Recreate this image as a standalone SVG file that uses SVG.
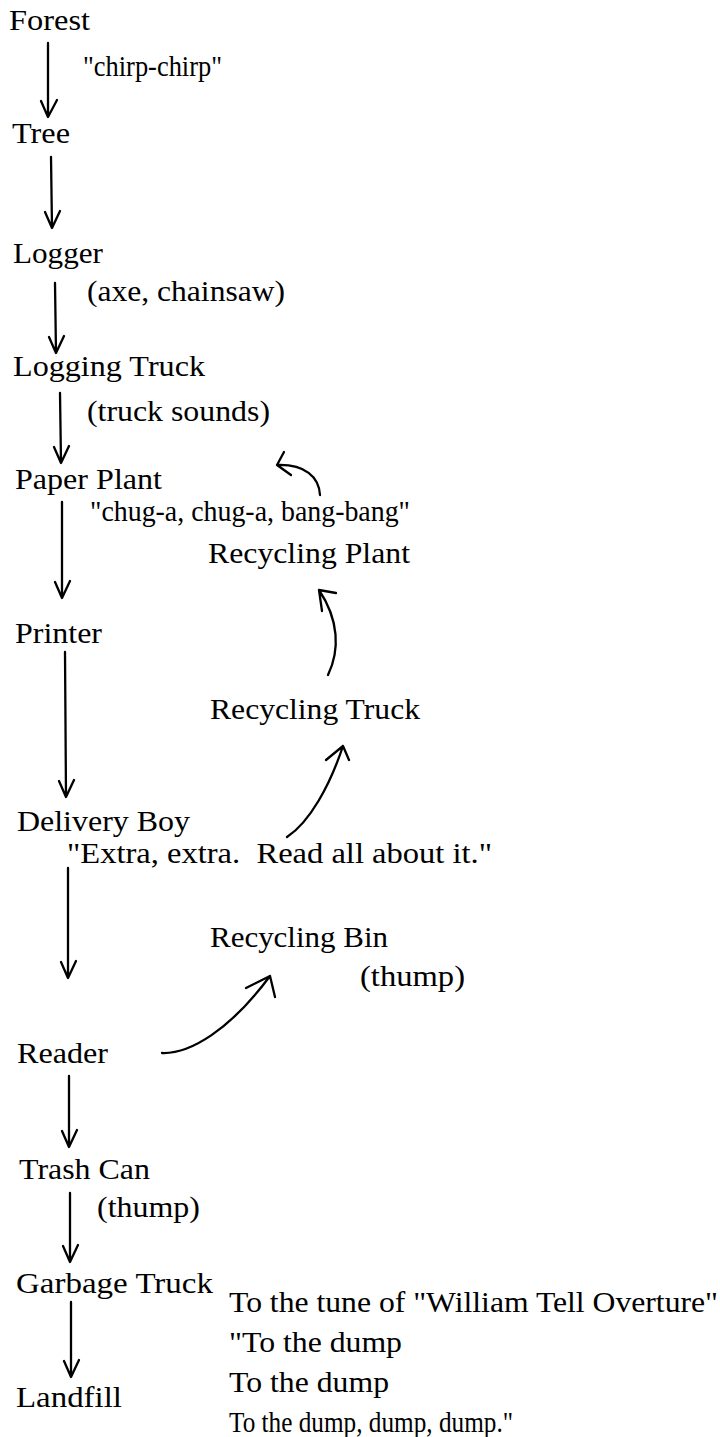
<svg xmlns="http://www.w3.org/2000/svg" width="720" height="1437" viewBox="0 0 720 1437">
<style>
text{font-family:"Liberation Serif","Times New Roman",serif;font-size:30px;fill:#000}
.c{fill:none;stroke:#000;stroke-width:2.3;stroke-linecap:round;stroke-linejoin:round}
</style>
<rect width="720" height="1437" fill="#fff"/>
<g id="forest"><text x="9" y="30" textLength="81" lengthAdjust="spacingAndGlyphs">Forest</text></g>
<g id="tree"><text x="12" y="143" textLength="58" lengthAdjust="spacingAndGlyphs">Tree</text></g>
<g id="logger"><text x="13" y="263" textLength="90" lengthAdjust="spacingAndGlyphs">Logger</text></g>
<g id="logging-truck"><text x="13" y="376" textLength="192" lengthAdjust="spacingAndGlyphs">Logging Truck</text></g>
<g id="paper-plant"><text x="15" y="489" textLength="147" lengthAdjust="spacingAndGlyphs">Paper Plant</text></g>
<g id="printer"><text x="15" y="643" textLength="87" lengthAdjust="spacingAndGlyphs">Printer</text></g>
<g id="delivery-boy"><text x="17" y="831" textLength="173" lengthAdjust="spacingAndGlyphs">Delivery Boy</text></g>
<g id="reader"><text x="17" y="1063" textLength="91" lengthAdjust="spacingAndGlyphs">Reader</text></g>
<g id="trash-can"><text x="19" y="1179" textLength="131" lengthAdjust="spacingAndGlyphs">Trash Can</text></g>
<g id="garbage-truck"><text x="16" y="1293" textLength="197" lengthAdjust="spacingAndGlyphs">Garbage Truck</text></g>
<g id="landfill"><text x="16" y="1407" textLength="106" lengthAdjust="spacingAndGlyphs">Landfill</text></g>
<g id="recycling-plant"><text x="208" y="563" textLength="202" lengthAdjust="spacingAndGlyphs">Recycling Plant</text></g>
<g id="recycling-truck"><text x="210" y="719" textLength="210" lengthAdjust="spacingAndGlyphs">Recycling Truck</text></g>
<g id="recycling-bin"><text x="210" y="947" textLength="178" lengthAdjust="spacingAndGlyphs">Recycling Bin</text></g>
<g id="labels">
<text x="83" y="76" textLength="139" lengthAdjust="spacingAndGlyphs">"chirp-chirp"</text>
<text x="87" y="301" textLength="198" lengthAdjust="spacingAndGlyphs">(axe, chainsaw)</text>
<text x="87" y="421" textLength="183" lengthAdjust="spacingAndGlyphs">(truck sounds)</text>
<text x="90" y="521" textLength="320" lengthAdjust="spacingAndGlyphs">"chug-a, chug-a, bang-bang"</text>
<text x="67" y="863" textLength="425" lengthAdjust="spacingAndGlyphs" xml:space="preserve">"Extra, extra.  Read all about it."</text>
<text x="360" y="986" textLength="105" lengthAdjust="spacingAndGlyphs">(thump)</text>
<text x="97" y="1217" textLength="103" lengthAdjust="spacingAndGlyphs">(thump)</text>
<text x="229" y="1312" textLength="489" lengthAdjust="spacingAndGlyphs">To the tune of "William Tell Overture"</text>
<text x="229" y="1352" textLength="173" lengthAdjust="spacingAndGlyphs">"To the dump</text>
<text x="229" y="1392" textLength="160" lengthAdjust="spacingAndGlyphs">To the dump</text>
<text x="229" y="1432" textLength="284" lengthAdjust="spacingAndGlyphs">To the dump, dump, dump."</text>
</g>
<g id="connectors" class="c">
<path class="c" d="M48 43 L48 117 M41 101 L48 117 L57 100"/>
<path class="c" d="M51 157 L52 228 M45 212 L52 228 L60 211"/>
<path class="c" d="M55 283 L56 353 M49 337 L56 353 L64 336"/>
<path class="c" d="M60 393 L61 463 M54 447 L61 463 L69 446"/>
<path class="c" d="M62 502 L62 598 M55 582 L62 598 L70 581"/>
<path class="c" d="M65 652 L66 797 M59 781 L66 797 L74 780"/>
<path class="c" d="M68 868 L68 978 M61 962 L68 978 L76 961"/>
<path class="c" d="M69 1076 L69 1147 M62 1131 L69 1147 L77 1130"/>
<path class="c" d="M70 1193 L70 1262 M63 1246 L70 1262 L78 1245"/>
<path class="c" d="M71 1302 L71 1377 M64 1361 L71 1377 L79 1360"/>
<path class="c" d="M320 495 C319 477 305 464 277 465 M284 452 L277 465 L291 475"/>
<path class="c" d="M328 675 C340 650 339 620 319 590 M336 593 L319 590 L322 611"/>
<path class="c" d="M287 837 C310 822 330 785 343 746 M326 760 L343 746 L349 760"/>
<path class="c" d="M162 1053 C190 1054 230 1030 270 976 M246 988 L270 976 L275 997"/>
</g>
</svg>
